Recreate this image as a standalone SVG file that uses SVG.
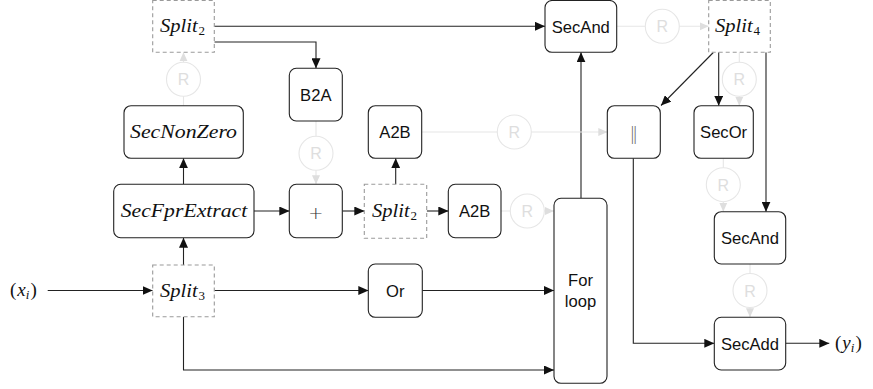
<svg xmlns="http://www.w3.org/2000/svg" width="873" height="389" viewBox="0 0 873 389">
  <defs>
    <marker id="arr" markerUnits="userSpaceOnUse" markerWidth="10" markerHeight="9" refX="10" refY="4.5" orient="auto">
      <path d="M0,0 L10,4.5 L0,9 z" fill="#111"/>
    </marker>
    <marker id="arrL" markerUnits="userSpaceOnUse" markerWidth="9" markerHeight="9" refX="9" refY="4.5" orient="auto">
      <path d="M0,0.5 L9,4.5 L0,8.5 z" fill="#dedede"/>
    </marker>
  </defs>
  <style>
    .box{fill:#fff;stroke:#222;stroke-width:1.1}
    .split{fill:#fff;stroke:#9a9a9a;stroke-width:1.1;stroke-dasharray:4 3}
    .lbl{font-family:"Liberation Sans",Arial,sans-serif;font-size:16.6px;fill:#111;text-anchor:middle}
    .math{font-family:"Liberation Serif","Times New Roman",serif;font-style:italic;font-size:19px;fill:#111}
    .sub{font-family:"Liberation Serif","Times New Roman",serif;font-size:13px;fill:#111}
    .wire{fill:none;stroke:#222;stroke-width:1.1;marker-end:url(#arr)}
    .faint{fill:none;stroke:#e6e6e6;stroke-width:1.1;marker-end:url(#arrL)}
    .rc{fill:#fff;stroke:#e6e6e6;stroke-width:1.1}
    .rt{font-family:"Liberation Sans",Arial,sans-serif;font-size:16px;fill:#dedede;text-anchor:middle}
  </style>

  <!-- connectors -->
  <g id="connectors">
    <!-- solid data paths -->
    <path class="wire" d="M47.7,290.5 H152.7"/>
    <path class="wire" d="M183.5,265 V237.7"/>
    <path class="wire" d="M183.5,184.3 V158.3"/>
    <path class="wire" d="M254,211 H289.3"/>
    <path class="wire" d="M342.3,211 H364.3"/>
    <path class="wire" d="M426.7,211 H448.3"/>
    <path class="wire" d="M395.7,184.3 V158.3"/>
    <path class="wire" d="M214.3,26.3 H545"/>
    <path class="wire" d="M214.3,42 H316 V68.3"/>
    <path class="wire" d="M214.3,290.5 H368.3"/>
    <path class="wire" d="M422.3,290.5 H554"/>
    <path class="wire" d="M183.5,316.7 V370 H554"/>
    <path class="wire" d="M581,198.3 V52.3"/>
    <path class="wire" d="M713.3,52.5 L661,105.5"/>
    <path class="wire" d="M718.7,52.3 V105.7"/>
    <path class="wire" d="M766,52.3 V211.7"/>
    <path class="wire" d="M633.3,158.3 V343.3 H714.3"/>
    <path class="wire" d="M785.7,343.3 H829.3"/>

    <!-- refresh (R) paths -->
    <path class="faint" d="M183.5,105.7 V52.3"/>
    <circle class="rc" cx="183.5" cy="79.3" r="17"/>
    <text class="rt" x="183.5" y="85.3">R</text>

    <path class="faint" d="M316,121 V184.3"/>
    <circle class="rc" cx="316" cy="153.3" r="17"/>
    <text class="rt" x="316" y="159.3">R</text>

    <path class="faint" d="M421.7,132 H607.3"/>
    <circle class="rc" cx="514.3" cy="132" r="17"/>
    <text class="rt" x="514.3" y="138">R</text>

    <path class="faint" d="M501,211 H554"/>
    <circle class="rc" cx="527.3" cy="211" r="17"/>
    <text class="rt" x="527.3" y="217">R</text>

    <path class="faint" d="M616.7,26.3 H708.7"/>
    <circle class="rc" cx="662.3" cy="26.3" r="17"/>
    <text class="rt" x="662.3" y="32.3">R</text>

    <path class="faint" d="M739.3,52.3 V105.7"/>
    <circle class="rc" cx="739.3" cy="79.3" r="17"/>
    <text class="rt" x="739.3" y="85.3">R</text>

    <path class="faint" d="M723.3,158.3 V211.7"/>
    <circle class="rc" cx="723.3" cy="184.7" r="17"/>
    <text class="rt" x="723.3" y="190.7">R</text>

    <path class="faint" d="M750,264 V317.3"/>
    <circle class="rc" cx="750" cy="290.5" r="17"/>
    <text class="rt" x="750" y="296.5">R</text>
  </g>

  <!-- input / output labels -->
  <g id="input">
    <text class="math" x="10" y="295.5"><tspan font-style="normal">(</tspan><tspan dx="1">x</tspan><tspan font-size="13" dy="3">i</tspan><tspan font-style="normal" dy="-3" dx="1">)</tspan></text>
  </g>
  <g id="output">
    <text class="math" x="835" y="348.5"><tspan font-style="normal">(</tspan><tspan dx="1">y</tspan><tspan font-size="13" dy="3">i</tspan><tspan font-style="normal" dy="-3" dx="1">)</tspan></text>
  </g>

  <!-- nodes -->
  <g id="split2-top">
    <rect class="split" x="152.7" y="0.5" width="61.6" height="51.8"/>
    <text class="math" x="160" y="32" textLength="37.7" lengthAdjust="spacingAndGlyphs">Split</text>
    <text class="sub" x="198.5" y="35">2</text>
  </g>
  <g id="secnonzero">
    <rect class="box" x="124" y="105.7" width="119.3" height="52.6" rx="7"/>
    <text class="math" x="130" y="138.3" textLength="107" lengthAdjust="spacingAndGlyphs">SecNonZero</text>
  </g>
  <g id="secfprextract">
    <rect class="box" x="113.7" y="184.3" width="140.3" height="53.4" rx="7"/>
    <text class="math" x="120.7" y="217.3" textLength="126.6" lengthAdjust="spacingAndGlyphs">SecFprExtract</text>
  </g>
  <g id="split3">
    <rect class="split" x="152.7" y="265" width="61.6" height="51.7"/>
    <text class="math" x="160" y="296.5" textLength="37.7" lengthAdjust="spacingAndGlyphs">Split</text>
    <text class="sub" x="198.5" y="299.5">3</text>
  </g>
  <g id="b2a">
    <rect class="box" x="289.3" y="68.3" width="53" height="52.7" rx="7"/>
    <text class="lbl" x="315.8" y="100.7">B2A</text>
  </g>
  <g id="add">
    <rect class="box" x="289.3" y="184.3" width="53" height="53.4" rx="7"/>
    <text x="315.8" y="218.5" style="font-family:'DejaVu Sans',sans-serif;font-size:18px;font-weight:300;fill:#333;text-anchor:middle">+</text>
  </g>
  <g id="a2b-top">
    <rect class="box" x="368.3" y="105.7" width="53.4" height="52.6" rx="7"/>
    <text class="lbl" x="395" y="138">A2B</text>
  </g>
  <g id="split2-mid">
    <rect class="split" x="364.3" y="184.3" width="62.4" height="54"/>
    <text class="math" x="372" y="216.8" textLength="37.7" lengthAdjust="spacingAndGlyphs">Split</text>
    <text class="sub" x="410.5" y="219.8">2</text>
  </g>
  <g id="a2b-bottom">
    <rect class="box" x="448.3" y="184.3" width="52.7" height="53.4" rx="7"/>
    <text class="lbl" x="474.7" y="217">A2B</text>
  </g>
  <g id="or">
    <rect class="box" x="368.3" y="264" width="54" height="53.3" rx="7"/>
    <text class="lbl" x="395.3" y="296.7">Or</text>
  </g>
  <g id="for-loop">
    <rect class="box" x="554" y="198.3" width="53" height="185" rx="7"/>
    <text class="lbl" x="580.5" y="285.5">For</text>
    <text class="lbl" x="580.5" y="307">loop</text>
  </g>
  <g id="secand-top">
    <rect class="box" x="545" y="0.5" width="71.7" height="51.8" rx="7"/>
    <text class="lbl" x="580.8" y="32.5">SecAnd</text>
  </g>
  <g id="split4">
    <rect class="split" x="708.7" y="0.5" width="61.6" height="51.8"/>
    <text class="math" x="715" y="32" textLength="37.7" lengthAdjust="spacingAndGlyphs">Split</text>
    <text class="sub" x="753.5" y="35">4</text>
  </g>
  <g id="concat">
    <rect class="box" x="607.3" y="105.7" width="53" height="52.6" rx="7"/>
    <text x="633.8" y="139.5" style="font-family:'DejaVu Sans',sans-serif;font-size:17px;font-weight:300;fill:#666;text-anchor:middle">‖</text>
  </g>
  <g id="secor">
    <rect class="box" x="694" y="105.7" width="59.3" height="52.6" rx="7"/>
    <text class="lbl" x="723.6" y="138">SecOr</text>
  </g>
  <g id="secand-bottom">
    <rect class="box" x="714.3" y="211.7" width="71.4" height="52.3" rx="7"/>
    <text class="lbl" x="750" y="244">SecAnd</text>
  </g>
  <g id="secadd">
    <rect class="box" x="714.3" y="317.3" width="71.4" height="52.7" rx="7"/>
    <text class="lbl" x="750" y="349.5">SecAdd</text>
  </g>
</svg>
